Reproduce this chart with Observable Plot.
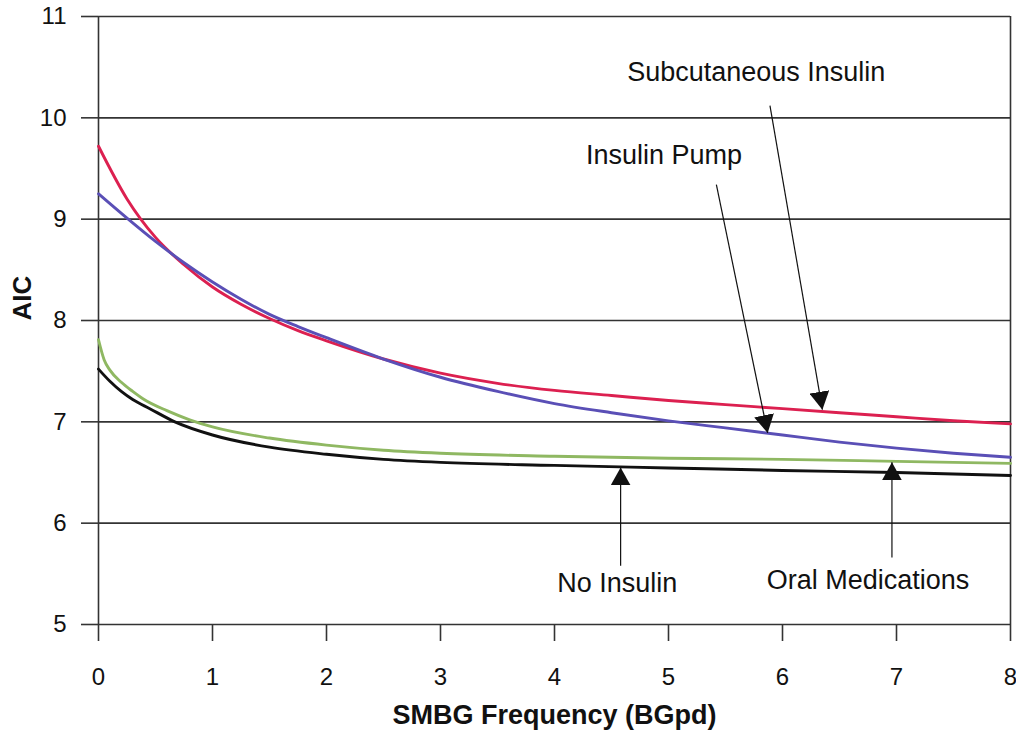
<!DOCTYPE html>
<html>
<head>
<meta charset="utf-8">
<script src="https://cdn.jsdelivr.net/npm/d3@7"></script>
<script src="https://cdn.jsdelivr.net/npm/@observablehq/plot@0.6"></script>
<style>
  html, body { margin: 0; padding: 0; background: #fff; }
</style>
</head>
<body>
<div id="chart"></div>
<script>
// ---- Data ----
const xTicks = [0, 1, 2, 3, 4, 5, 6, 7, 8];
const yTicks = [5, 6, 7, 8, 9, 10, 11];

const subcutaneousX = [0, 0.25, 0.5, 0.75, 1, 1.25, 1.5, 1.75, 2, 2.5, 3, 3.5, 4, 4.5, 5, 5.5, 6, 6.5, 7, 7.5, 8];
const subcutaneousY = [9.72, 9.2, 8.82, 8.55, 8.33, 8.16, 8.02, 7.9, 7.8, 7.62, 7.48, 7.38, 7.31, 7.26, 7.21, 7.17, 7.13, 7.09, 7.05, 7.01, 6.98];

const pumpX = [0, 0.25, 0.5, 0.75, 1, 1.25, 1.5, 1.75, 2, 2.5, 3, 3.5, 4, 4.5, 5, 5.5, 6, 6.5, 7, 7.5, 8];
const pumpY = [9.25, 9.01, 8.78, 8.57, 8.38, 8.21, 8.06, 7.94, 7.83, 7.62, 7.44, 7.3, 7.18, 7.09, 7.01, 6.94, 6.87, 6.8, 6.74, 6.69, 6.65];

const oralX = [0, 0.05, 0.1, 0.2, 0.3, 0.4, 0.6, 0.8, 1, 1.5, 2, 2.5, 3, 4, 5, 6, 7, 8];
const oralY = [7.81, 7.61, 7.51, 7.39, 7.3, 7.22, 7.11, 7.02, 6.95, 6.84, 6.77, 6.72, 6.69, 6.66, 6.64, 6.63, 6.61, 6.59];

const noInsulinX = [0, 0.1, 0.2, 0.3, 0.45, 0.67, 1, 1.5, 2, 2.5, 3, 4, 5, 6, 7, 8];
const noInsulinY = [7.52, 7.4, 7.3, 7.22, 7.13, 7.0, 6.87, 6.75, 6.68, 6.63, 6.6, 6.57, 6.545, 6.52, 6.5, 6.47];

const seriesNames = ["Subcutaneous Insulin", "Insulin Pump", "Oral Medications", "No Insulin"];
const seriesColors = ["#dc2050", "#5a4fb6", "#8fb862", "#111111"];

// annotation labels and arrows (data coordinates)
const labelText = ["Subcutaneous Insulin", "Insulin Pump", "No Insulin", "Oral Medications"];
const labelX = [5.77, 4.96, 4.55, 6.75];
const labelY = [10.45, 9.63, 5.41, 5.44];
const arrowX1 = [5.89, 5.42, 4.58, 6.96];
const arrowY1 = [10.12, 9.34, 5.58, 5.66];
const arrowX2 = [6.35, 5.87, 4.58, 6.96];
const arrowY2 = [7.12, 6.89, 6.55, 6.6];

const xLabel = "SMBG Frequency (BGpd)";
const yLabel = "AIC";

// ---- Build tables ----
const allX = [subcutaneousX, pumpX, oralX, noInsulinX];
const allY = [subcutaneousY, pumpY, oralY, noInsulinY];
const lines = [];
seriesNames.forEach((name, i) => {
  allX[i].forEach((x, j) => lines.push({series: name, x, y: allY[i][j]}));
});
const labels = labelText.map((t, i) => ({text: t, x: labelX[i], y: labelY[i]}));
const arrows = labelText.map((t, i) => ({x1: arrowX1[i], y1: arrowY1[i], x2: arrowX2[i], y2: arrowY2[i]}));

const font = "'Liberation Sans', Arial, Helvetica, sans-serif";

const chart = Plot.plot({
  width: 1016,
  height: 731,
  marginLeft: 98,
  marginRight: 6,
  marginTop: 16,
  marginBottom: 107,
  style: {fontFamily: font, background: "#fff", color: "#111"},
  x: {domain: [0, 8]},
  y: {domain: [5, 11]},
  color: {domain: seriesNames, range: seriesColors},
  marks: [
    Plot.ruleY(yTicks, {stroke: "#333", strokeWidth: 1.6}),
    Plot.ruleX([0, 8], {stroke: "#333", strokeWidth: 1.6}),
    Plot.axisX({ticks: xTicks, tickSize: 17, tickPadding: 26, fontSize: 24, label: null, stroke: "#333", strokeWidth: 1.6, tickFormat: d3.format("d")}),
    Plot.axisY({ticks: yTicks, tickSize: 17, tickPadding: 15, fontSize: 24, label: null, stroke: "#333", strokeWidth: 1.6, tickFormat: d3.format("d")}),
    Plot.line(lines, {x: "x", y: "y", z: "series", stroke: "series", strokeWidth: 2.9, curve: "monotone-x"}),
    Plot.link(arrows, {x1: "x1", y1: "y1", x2: "x2", y2: "y2", stroke: "#111", strokeWidth: 1.2}),
    Plot.text(labels, {x: "x", y: "y", text: "text", fontSize: 27, fill: "#111"}),
    Plot.text([xLabel], {frameAnchor: "bottom", dy: 99, fontSize: 27, fontWeight: "bold", fill: "#111"}),
    Plot.text([yLabel], {frameAnchor: "left", dx: -76, rotate: -90, fontSize: 26, fontWeight: "bold", fill: "#111"})
  ]
});

// filled arrowheads for the annotation links
const ns = "http://www.w3.org/2000/svg";
const defs = document.createElementNS(ns, "defs");
const marker = document.createElementNS(ns, "marker");
marker.setAttribute("id", "ah");
marker.setAttribute("viewBox", "0 0 18 20");
marker.setAttribute("refX", "18");
marker.setAttribute("refY", "10");
marker.setAttribute("markerWidth", "18");
marker.setAttribute("markerHeight", "20");
marker.setAttribute("markerUnits", "userSpaceOnUse");
marker.setAttribute("orient", "auto");
const mp = document.createElementNS(ns, "path");
mp.setAttribute("d", "M0,0L18,10L0,20Z");
mp.setAttribute("fill", "#111");
marker.appendChild(mp);
defs.appendChild(marker);
chart.insertBefore(defs, chart.firstChild);
chart.querySelectorAll('g[aria-label="link"] path').forEach(p => p.setAttribute("marker-end", "url(#ah)"));

document.getElementById("chart").appendChild(chart);
</script>
</body>
</html>
